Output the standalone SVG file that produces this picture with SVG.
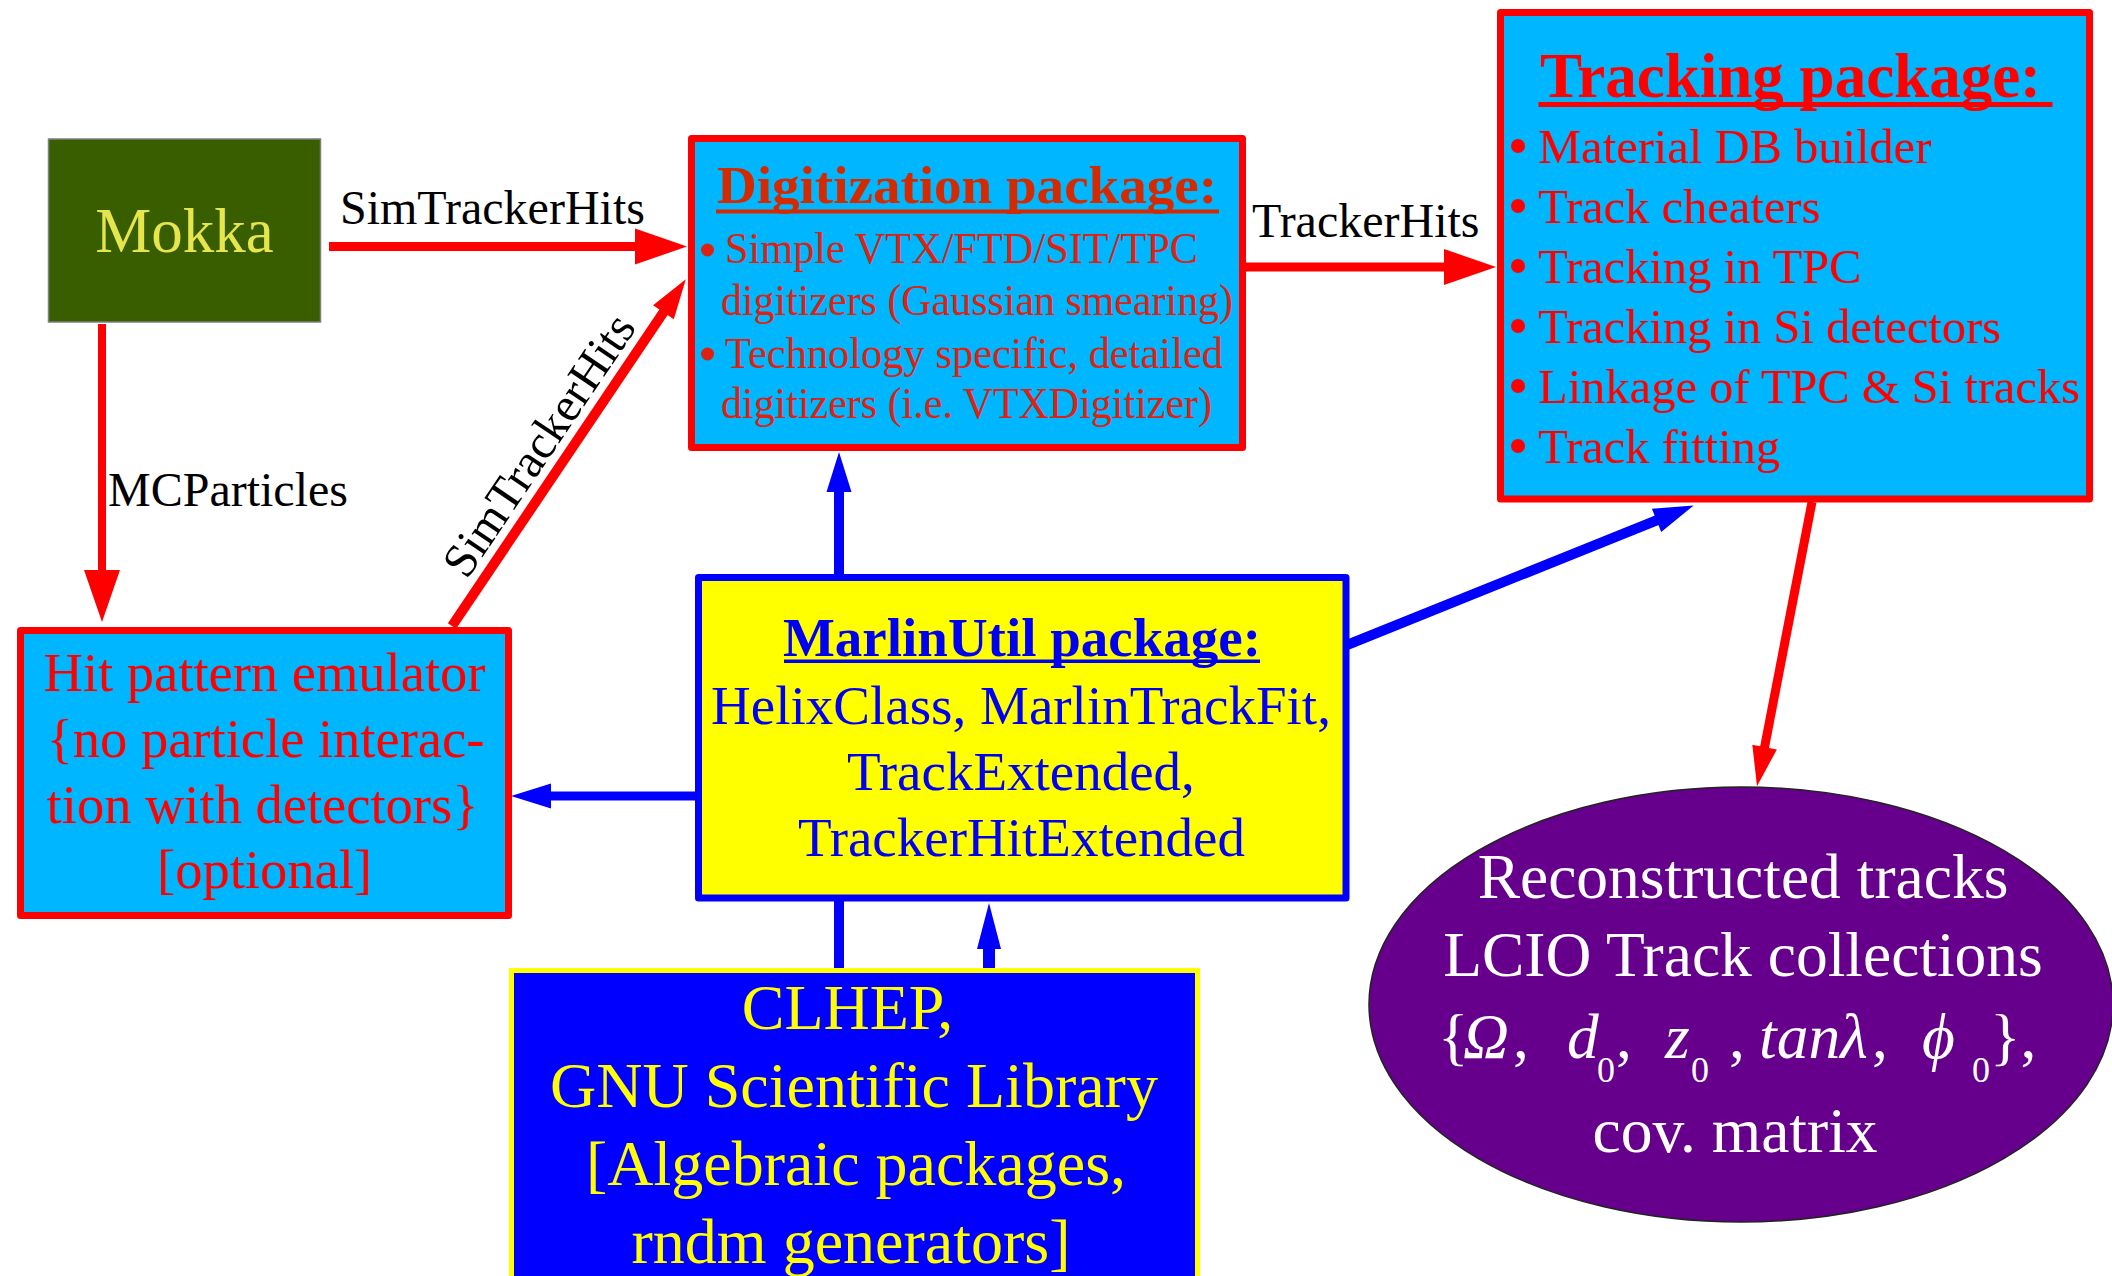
<svg xmlns="http://www.w3.org/2000/svg" width="2112" height="1276" viewBox="0 0 2112 1276">
<style>
text{font-family:"Liberation Serif","Times New Roman",serif}
.lbl{font-size:48px;fill:#000}
.rl{stroke:#FF0000;fill:none}
.bl{stroke:#0000FF;fill:none}
.cyanbox{fill:#00B6FF;stroke:#FF0000;stroke-width:7;stroke-linejoin:round}
.dig{font-size:44px;fill:#DD2211}
.trk{font-size:48.5px;fill:#FF0000}
.hit{font-size:54.5px;fill:#FF0000;text-anchor:middle}
.mu{font-size:55px;fill:#0000F0;text-anchor:middle}
.cl{font-size:64px;fill:#FFFF00;text-anchor:middle}
.el{font-size:63.5px;fill:#FFFFFF}
.b{font-weight:bold}
.it{font-style:italic}
.sub{font-size:36px}
</style>
<defs>
<marker id="aR" markerUnits="userSpaceOnUse" markerWidth="52" markerHeight="36" viewBox="0 0 52 36" refX="1" refY="18" orient="auto" overflow="visible"><path d="M0,0 L52,18 L0,36 z" fill="#FF0000"/></marker>
<marker id="aRs" markerUnits="userSpaceOnUse" markerWidth="40" markerHeight="25" viewBox="0 0 40 25" refX="1" refY="12.5" orient="auto" overflow="visible"><path d="M0,0 L40,12.5 L0,25 z" fill="#FF0000"/></marker>
<marker id="aB" markerUnits="userSpaceOnUse" markerWidth="40" markerHeight="25" viewBox="0 0 40 25" refX="1" refY="12.5" orient="auto" overflow="visible"><path d="M0,0 L40,12.5 L0,25 z" fill="#0000FF"/></marker>
<marker id="aB2" markerUnits="userSpaceOnUse" markerWidth="46" markerHeight="24" viewBox="0 0 46 24" refX="1" refY="12" orient="auto" overflow="visible"><path d="M0,0 L46,12 L0,24 z" fill="#0000FF"/></marker>
</defs>
<rect width="2112" height="1276" fill="#FFFFFF"/>

<g id="connectors">
  <path class="rl" d="M329,246.5 H636" stroke-width="9" marker-end="url(#aR)"/>
  <path class="rl" d="M102,324 V571" stroke-width="8" marker-end="url(#aR)"/>
  <path class="rl" d="M1246,267 H1445" stroke-width="9" marker-end="url(#aR)"/>
  <path class="rl" d="M452,626 L664,311.5" stroke-width="10" marker-end="url(#aRs)"/>
  <path class="rl" d="M1812,502 L1764.4,748" stroke-width="9" marker-end="url(#aRs)"/>
  <path class="bl" d="M696,796 H550" stroke-width="9" marker-end="url(#aB)"/>
  <path class="bl" d="M1347,645 L1657.5,520" stroke-width="10" marker-end="url(#aB)"/>
  <path class="bl" d="M989,970 V948" stroke-width="12" marker-end="url(#aB2)"/>
  <path class="bl" d="M839,970 V491" stroke-width="10" marker-end="url(#aB)"/>
  <text class="lbl" x="340" y="224">SimTrackerHits</text>
  <text class="lbl" x="108" y="506">MCParticles</text>
  <text class="lbl" x="1252" y="237">TrackerHits</text>
  <text class="lbl" text-anchor="middle" transform="translate(552,454) rotate(-56)">SimTrackerHits</text>
</g>

<g id="mokka">
  <rect x="48.5" y="139" width="272" height="183" fill="#385E00" stroke="#7F7F7F" stroke-width="1.5"/>
  <text x="184.5" y="251.5" font-size="63" fill="#E6E64C" text-anchor="middle">Mokka</text>
</g>

<g id="digitization">
  <rect class="cyanbox" x="691.5" y="138.5" width="551" height="309"/>
  <text class="b" x="717" y="203" font-size="52" fill="#D42A00" textLength="500" lengthAdjust="spacingAndGlyphs">Digitization package:</text>
  <rect x="716" y="209.5" width="503" height="4" fill="#D42A00"/>
  <circle cx="707.5" cy="250" r="6.5" fill="#DD2211"/>
  <text class="dig" x="725" y="263" textLength="473" lengthAdjust="spacingAndGlyphs">Simple VTX/FTD/SIT/TPC</text>
  <text class="dig" x="721" y="315" textLength="512" lengthAdjust="spacingAndGlyphs">digitizers (Gaussian smearing)</text>
  <circle cx="707.5" cy="354" r="6.5" fill="#DD2211"/>
  <text class="dig" x="725" y="368" textLength="498" lengthAdjust="spacingAndGlyphs">Technology specific, detailed</text>
  <text class="dig" x="721" y="418" textLength="491" lengthAdjust="spacingAndGlyphs">digitizers (i.e. VTXDigitizer)</text>
</g>

<g id="tracking">
  <rect class="cyanbox" x="1500.5" y="12.5" width="589" height="486.5"/>
  <text class="b" x="1540" y="97" font-size="63" fill="#FF0000">Tracking package:</text>
  <rect x="1538.5" y="102" width="514" height="5" fill="#FF0000"/>
  <g fill="#FF0000">
    <circle cx="1518" cy="146" r="7"/>
    <circle cx="1518" cy="206" r="7"/>
    <circle cx="1518" cy="266" r="7"/>
    <circle cx="1518" cy="326" r="7"/>
    <circle cx="1518" cy="386" r="7"/>
    <circle cx="1518" cy="446" r="7"/>
  </g>
  <text class="trk" x="1538" y="163">Material DB builder</text>
  <text class="trk" x="1538" y="223">Track cheaters</text>
  <text class="trk" x="1538" y="283">Tracking in TPC</text>
  <text class="trk" x="1538" y="343">Tracking in Si detectors</text>
  <text class="trk" x="1538" y="403">Linkage of TPC &amp; Si tracks</text>
  <text class="trk" x="1538" y="463">Track fitting</text>
</g>

<g id="hit-pattern-emulator">
  <rect class="cyanbox" x="20.5" y="630.5" width="488" height="285"/>
  <text class="hit" x="264.5" y="691">Hit pattern emulator</text>
  <text class="hit" x="265.5" y="757">{no particle interac-</text>
  <text class="hit" x="262.5" y="823">tion with detectors}</text>
  <text class="hit" x="264.5" y="888">[optional]</text>
</g>

<g id="marlinutil">
  <rect x="698.5" y="577.5" width="647.5" height="320.5" fill="#FFFF00" stroke="#0000FF" stroke-width="7" stroke-linejoin="round"/>
  <text class="mu b" x="1022" y="656">MarlinUtil package:</text>
  <rect x="784" y="659.5" width="476" height="3.5" fill="#0000F0"/>
  <text class="mu" x="1021" y="724">HelixClass, MarlinTrackFit,</text>
  <text class="mu" x="1021" y="790">TrackExtended,</text>
  <text class="mu" x="1021.5" y="856">TrackerHitExtended</text>
</g>

<g id="clhep">
  <rect x="511.5" y="970.5" width="686" height="330" fill="#0000FF" stroke="#FFFF00" stroke-width="5"/>
  <text class="cl" x="847.5" y="1029">CLHEP,</text>
  <text class="cl" x="854" y="1107">GNU Scientific Library</text>
  <text class="cl" x="856" y="1185">[Algebraic packages,</text>
  <text class="cl" x="851" y="1263">rndm generators]</text>
</g>

<g id="reconstructed-tracks">
  <ellipse cx="1741" cy="1004.5" rx="372" ry="217.5" fill="#66008C" stroke="#222222" stroke-width="1.5"/>
  <text class="el" x="1743" y="898" text-anchor="middle">Reconstructed tracks</text>
  <text class="el" x="1743" y="976" text-anchor="middle">LCIO Track collections</text>
  <text class="el" y="1058"><tspan x="1438">{</tspan><tspan class="it" x="1463">Ω</tspan><tspan x="1513">,</tspan><tspan class="it" x="1567">d</tspan><tspan class="sub" x="1597" y="1082">0</tspan><tspan x="1616" y="1058">,</tspan><tspan class="it" x="1665">z</tspan><tspan class="sub" x="1691" y="1082">0</tspan><tspan x="1729" y="1058">,</tspan><tspan class="it" x="1759">tanλ</tspan><tspan x="1872">,</tspan><tspan class="it" x="1922">ϕ</tspan><tspan class="sub" x="1972" y="1082">0</tspan><tspan x="1990" y="1058">},</tspan></text>
  <text class="el" x="1735" y="1152" text-anchor="middle">cov. matrix</text>
</g>
</svg>
